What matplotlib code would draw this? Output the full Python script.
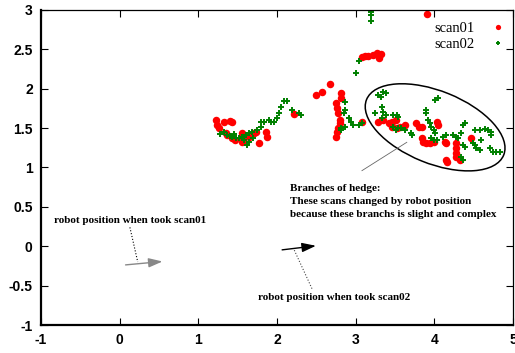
import matplotlib
matplotlib.use("Agg")
import matplotlib.pyplot as plt
from matplotlib.patches import Ellipse

# scan01 (red dots)
red_x = [1.23, 1.24, 1.26, 1.33, 1.40, 1.43, 1.35, 1.36, 1.43, 1.46, 1.55, 1.55, 1.56, 1.65, 1.71,
         1.73, 1.77, 1.86, 1.87, 2.22,
         2.49, 2.57, 2.68, 2.81, 2.81, 2.75, 2.76, 2.78, 2.80, 2.80, 2.75, 2.76, 2.78, 3.08,
         3.08, 3.12, 3.16, 3.22, 3.27, 3.32, 3.30, 3.91,
         3.29, 3.35, 3.42, 3.46, 3.51, 3.46, 3.52, 3.57, 3.63, 3.77, 3.80, 3.84, 3.84, 3.86,
         3.89, 4.03, 4.05, 4.14, 4.15, 4.27, 4.27, 4.28, 4.28, 4.33, 4.15, 4.16, 4.47, 3.95, 3.99]
red_y = [1.60, 1.54, 1.50, 1.58, 1.59, 1.58, 1.44, 1.41, 1.37, 1.35, 1.44, 1.37, 1.32, 1.39, 1.44,
         1.45, 1.31, 1.45, 1.39, 1.68,
         1.92, 1.96, 2.06, 1.95, 1.88, 1.82, 1.76, 1.69, 1.60, 1.57, 1.39, 1.45, 1.50, 1.58,
         2.40, 2.41, 2.42, 2.43, 2.45, 2.44, 2.39, 2.95,
         1.58, 1.60, 1.57, 1.58, 1.60, 1.51, 1.50, 1.51, 1.54, 1.57, 1.51, 1.51, 1.37, 1.32,
         1.31, 1.58, 1.54, 1.32, 1.31, 1.31, 1.25, 1.18, 1.13, 1.10, 1.10, 1.07, 1.37, 1.31, 1.32]

# scan02 (green crosses)
green_x = [1.33, 1.37, 1.43, 1.48, 1.52, 1.56, 1.61, 1.65, 1.68, 1.75, 1.80, 1.80, 1.84, 1.90,
           1.92, 1.96, 2.00, 2.03, 2.05, 2.09, 2.13, 1.62, 1.65, 2.19, 2.28, 2.30,
           1.45, 1.40, 1.70, 1.58, 1.28,
           3.00, 3.04, 3.20, 3.20, 3.20, 2.87, 2.87, 2.85, 2.91, 2.94, 2.97, 3.04, 3.08, 2.82,
           2.81, 2.87,
           3.29, 3.35, 3.38, 3.32, 3.25, 3.33, 3.35, 3.38, 3.33, 3.48, 3.52, 3.54, 3.48, 3.51,
           3.54, 3.58, 3.63, 3.70, 3.71, 3.89, 3.90, 4.01, 4.05, 3.92, 3.95, 3.96, 3.99, 4.01,
           3.96, 3.99, 4.03, 4.11, 4.15, 4.24, 4.27, 4.30, 4.34, 4.37, 4.39, 4.34, 4.37, 4.49,
           4.52, 4.53, 4.58, 4.52, 4.58, 4.65, 4.68, 4.72, 4.72, 4.59, 4.71, 4.75, 4.78, 4.84,
           4.37, 4.39]
green_y = [1.45, 1.41, 1.39, 1.37, 1.37, 1.39, 1.41, 1.44, 1.45, 1.48, 1.51, 1.58, 1.58, 1.60,
           1.58, 1.58, 1.63, 1.69, 1.77, 1.84, 1.84, 1.29, 1.32, 1.73, 1.69, 1.67,
           1.42, 1.40, 1.38, 1.35, 1.43,
           2.20, 2.35, 2.97, 2.94, 2.86, 1.83, 1.73, 1.69, 1.63, 1.58, 1.54, 1.54, 1.57, 1.48,
           1.50, 1.51,
           1.92, 1.96, 1.95, 1.90, 1.69, 1.77, 1.70, 1.67, 1.63, 1.67, 1.67, 1.64, 1.51, 1.48,
           1.50, 1.50, 1.48, 1.44, 1.41, 1.73, 1.69, 1.86, 1.88, 1.60, 1.57, 1.51, 1.48, 1.44,
           1.37, 1.35, 1.35, 1.39, 1.41, 1.41, 1.39, 1.37, 1.44, 1.54, 1.57, 1.13, 1.10, 1.31,
           1.29, 1.25, 1.22, 1.48, 1.48, 1.49, 1.48, 1.45, 1.41, 1.35, 1.25, 1.20, 1.20, 1.20,
           1.29, 1.26]

# robot poses (start, end) of the two arrows
pose1 = [(0.04, -0.24), (0.58, -0.19)]
pose2 = [(2.03, -0.05), (2.53, 0.01)]

serif = ['Liberation Serif', 'DejaVu Serif']

fig = plt.figure(figsize=(5.15, 3.53), dpi=100)
ax = fig.add_axes([0.0796, 0.0793, 0.9165, 0.8924])

ax.plot(red_x, red_y, 'o', color='#ff0000', ms=5.4, mec='none', label='scan01')
ax.plot(green_x, green_y, '+', color='#008000', ms=5.0, mew=1.4, label='scan02')

ax.set_xlim(-1, 5)
ax.set_ylim(-1, 3)
ax.set_xticks(range(-1, 6))
ax.set_xticklabels(['-1', '0', '1', '2', '3', '4', '5'])
ax.set_yticks([-1, -0.5, 0, 0.5, 1, 1.5, 2, 2.5, 3])
ax.set_yticklabels(['-1', '-0.5', '0', '0.5', '1', '1.5', '2', '2.5', '3'])
for lab in ax.get_xticklabels() + ax.get_yticklabels():
    lab.set_fontfamily('Liberation Sans')
    lab.set_fontweight('bold')
    lab.set_fontsize(10)
ax.tick_params(direction='in', length=5, width=0.8, top=True, right=True, pad=6)
for s in ['left', 'bottom']:
    ax.spines[s].set_linewidth(1.6)
for s in ['top', 'right']:
    ax.spines[s].set_linewidth(0.9)

leg = ax.legend(loc='upper right', bbox_to_anchor=(1.005, 0.996), markerfirst=False,
                frameon=False, prop={'family': serif, 'size': 10.5}, handlelength=1.0,
                handletextpad=1.1, labelspacing=0.2, borderaxespad=0.3, markerscale=0.7)

# ellipse around branches
ax.add_patch(Ellipse((4.01, 1.51), 1.88, 0.92, angle=-22, fill=False, lw=1.1, color='black'))

# arrows
ax.annotate('', xy=pose1[1], xytext=pose1[0],
            arrowprops=dict(arrowstyle='-|>,head_length=0.6,head_width=0.2',
                            color='#888888', lw=1.0, mutation_scale=14))
ax.annotate('', xy=pose2[1], xytext=pose2[0],
            arrowprops=dict(arrowstyle='-|>,head_length=0.6,head_width=0.2',
                            color='black', lw=1.0, mutation_scale=14))

tfont = dict(family=serif, fontweight='bold', fontsize=8.0)

ax.text(-0.84, 0.33, 'robot position when took scan01', ha='left', va='center', **tfont)
ax.plot([0.13, 0.23], [0.24, -0.2], ls=':', color='black', lw=0.8)

ax.text(1.76, -0.65, 'robot position when took scan02', ha='left', va='center', **tfont)
ax.plot([2.22, 2.45], [-0.05, -0.55], ls=':', color='#444444', lw=0.8)

ax.text(2.16, 0.79, 'Branches of hedge:\nThese scans changed by robot position\n'
        'because these branchs is slight and complex', ha='left', va='top',
        linespacing=1.55, **tfont)
ax.plot([3.08, 3.65], [0.96, 1.32], '-', color='#666666', lw=0.6)

fig.savefig('out.png', dpi=100)
